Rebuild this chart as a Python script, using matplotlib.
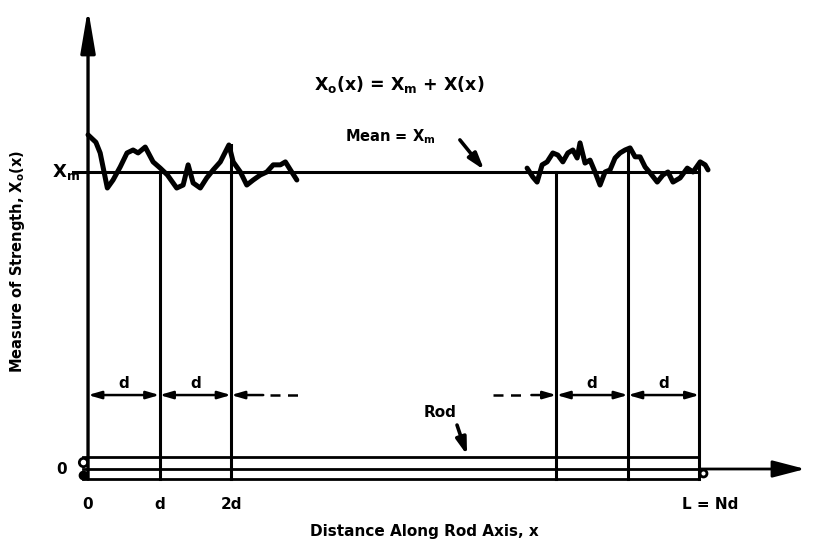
import matplotlib
matplotlib.use("Agg")
import matplotlib.pyplot as plt

plt.rcParams['font.family'] = ['DejaVu Sans']
plt.rcParams['mathtext.fontset'] = 'dejavusans'

# units: x in multiples of d, strength in multiples of the mean Xm
L_over_d = 8.55
x_mean = 1.0

# fluctuation X(x) near the start of the rod
left_x = [0.0, 0.11, 0.17, 0.27, 0.35, 0.45, 0.545, 0.63, 0.70, 0.80, 0.91,
          1.01, 1.11, 1.24, 1.33, 1.40, 1.47, 1.57, 1.66, 1.75, 1.85, 1.97,
          2.03, 2.13, 2.22, 2.31, 2.41, 2.50, 2.59, 2.69, 2.76, 2.83, 2.92]
left_dev = [0.125, 0.10, 0.064, -0.054, -0.027, 0.017, 0.064, 0.074, 0.064,
            0.084, 0.034, 0.013, -0.010, -0.054, -0.044, 0.024, -0.037, -0.054,
            -0.020, 0.007, 0.034, 0.091, 0.034, 0.0, -0.044, -0.027, -0.010,
            0.0, 0.024, 0.024, 0.034, 0.007, -0.027]

# fluctuation X(x) near the end of the rod
right_x = [6.14, 6.22, 6.28, 6.35, 6.42, 6.50, 6.57, 6.64, 6.71, 6.78, 6.84,
           6.88, 6.95, 7.02, 7.09, 7.16, 7.23, 7.30, 7.37, 7.44, 7.51, 7.58,
           7.65, 7.72, 7.79, 7.86, 7.96, 8.04, 8.11, 8.18, 8.28, 8.38, 8.46,
           8.56, 8.63, 8.67]
right_dev = [0.013, -0.017, -0.034, 0.024, 0.034, 0.064, 0.057, 0.034, 0.064,
             0.074, 0.047, 0.098, 0.030, 0.040, 0.0, -0.044, 0.0, 0.007, 0.047,
             0.064, 0.074, 0.081, 0.051, 0.051, 0.017, -0.003, -0.034, -0.010,
             0.0, -0.034, -0.020, 0.013, 0.0, 0.034, 0.024, 0.007]

# segment boundaries (how far each vertical reaches)
left_cuts = [1.0, 2.0]
left_cut_tops = [1.0, 1.09]
right_cuts = [L_over_d - 2, L_over_d - 1, L_over_d]
right_cut_tops = [1.0, 1.08, 1.03]

tick_pos = [0, 1, 2, 8.70]
tick_labels = ["0", "d", "2d", "L = Nd"]

rod_top, rod_bot = 0.040, -0.034


fig = plt.figure(figsize=(8.16, 5.47), dpi=100)
ax = fig.add_axes([0, 0, 1, 1])
ax.set_xlim(-1.231, 10.18)
ax.set_ylim(-0.2626, 1.579)
ax.axis('off')

k = 'black'
bold = dict(fontweight='bold', color=k)

# axes
ax.annotate('', xy=(0, 1.55), xytext=(0, rod_bot),
            arrowprops=dict(arrowstyle='-|>,head_length=1.3,head_width=0.22',
                            lw=2.4, color=k, shrinkA=0, shrinkB=0,
                            mutation_scale=20))
ax.annotate('', xy=(10.03, 0), xytext=(L_over_d, 0),
            arrowprops=dict(arrowstyle='-|>,head_length=1.0,head_width=0.26',
                            lw=2.0, color=k, shrinkA=0, shrinkB=0,
                            mutation_scale=20))

# mean line
ax.plot([-0.21, L_over_d], [x_mean, x_mean], color=k, lw=2.2)

# strength curve
ax.plot(left_x, [x_mean + v for v in left_dev], color=k, lw=3.6,
        solid_joinstyle='round', solid_capstyle='round')
ax.plot(right_x, [x_mean + v for v in right_dev], color=k, lw=3.6,
        solid_joinstyle='round', solid_capstyle='round')

# rod
for yy in [rod_top, 0, rod_bot]:
    ax.plot([-0.07, L_over_d], [yy, yy], color=k, lw=2.0)
ax.plot([-0.07], [0.022], 'o', ms=6, mfc='white', mec=k, mew=2)
ax.plot([-0.07], [-0.02], 'o', ms=6, color=k)
ax.plot([L_over_d + 0.05], [-0.015], 'o', ms=5, mfc='white', mec=k, mew=2)

# segment verticals
for xc, top in zip(left_cuts + right_cuts, left_cut_tops + right_cut_tops):
    ax.plot([xc, xc], [rod_bot, top], color=k, lw=2.2)

# dimension arrows
dim_y = 0.249
arr = dict(arrowstyle='<|-|>,head_length=0.55,head_width=0.16', lw=1.8,
           color=k, shrinkA=0, shrinkB=0, mutation_scale=14)
for a, b in [(0, 1), (1, 2), (L_over_d - 2, L_over_d - 1),
             (L_over_d - 1, L_over_d)]:
    ax.annotate('', xy=(b, dim_y), xytext=(a, dim_y), arrowprops=arr)
    ax.text((a + b) / 2, dim_y + 0.012, "d", ha='center', va='bottom',
            fontsize=11, **bold)
one = dict(arrowstyle='-|>,head_length=0.55,head_width=0.16', lw=1.8,
           color=k, shrinkA=0, shrinkB=0, mutation_scale=14)
ax.annotate('', xy=(2, dim_y), xytext=(2.45, dim_y), arrowprops=one)
ax.plot([2.55, 2.94], [dim_y, dim_y], color=k, lw=1.8, ls=(0, (4, 3)))
ax.annotate('', xy=(L_over_d - 2, dim_y), xytext=(6.20, dim_y), arrowprops=one)
ax.plot([5.66, 6.14], [dim_y, dim_y], color=k, lw=1.8, ls=(0, (4, 3)))

# annotations
pointer = dict(arrowstyle='-|>,head_length=0.7,head_width=0.22', lw=2.6,
               color=k, shrinkA=0, shrinkB=0, mutation_scale=14)
ax.text(4.35, 1.293, r"X$_\mathbf{o}$(x) = X$_\mathbf{m}$ + X(x)",
        ha='center', va='center', fontsize=12.5, **bold)
ax.text(3.59, 1.118, r"Mean = X$_\mathbf{m}$", ha='left', va='center',
        fontsize=10.5, **bold)
ax.annotate('', xy=(5.54, 1.007), xytext=(5.20, 1.108), arrowprops=pointer)
ax.text(4.92, 0.189, "Rod", ha='center', va='center', fontsize=11, **bold)
ax.annotate('', xy=(5.30, 0.047), xytext=(5.16, 0.148), arrowprops=pointer)

# axis labels and ticks
ax.text(-0.11, x_mean, r"X$_\mathbf{m}$", ha='right', va='center',
        fontsize=13, **bold)
ax.text(-0.30, 0, "0", ha='right', va='center', fontsize=11, **bold)
for p, lab in zip(tick_pos, tick_labels):
    ax.text(p, -0.121, lab, ha='center', va='center', fontsize=11, **bold)
ax.text(4.71, -0.209, "Distance Along Rod Axis, x", ha='center', va='center',
        fontsize=11, **bold)
ax.text(-0.98, 0.70, r"Measure of Strength, X$_\mathbf{o}$(x)", rotation=90,
        ha='center', va='center', fontsize=10.5, **bold)

fig.savefig("out.png", dpi=100)
